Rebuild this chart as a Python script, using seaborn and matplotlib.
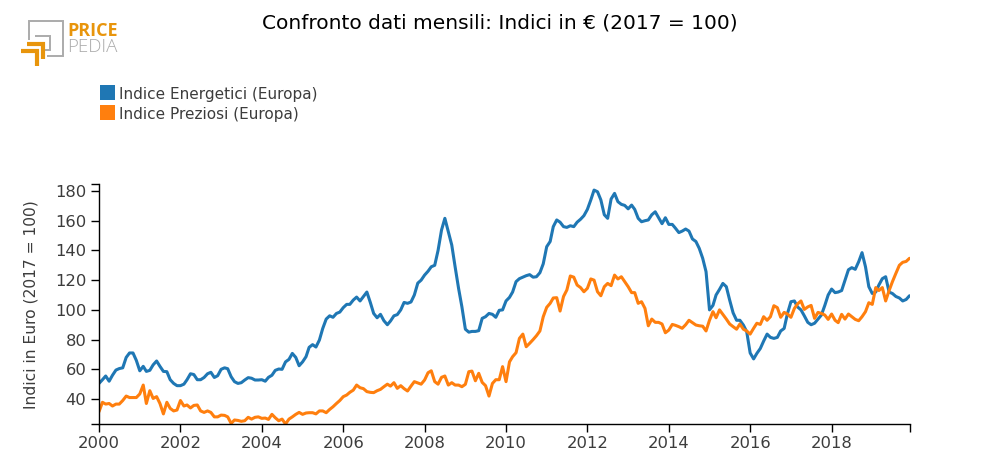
import matplotlib
matplotlib.use('Agg')
import matplotlib.pyplot as plt
import matplotlib.dates as mdates
from matplotlib.lines import Line2D
from matplotlib.patches import Rectangle
import pandas as pd
import seaborn as sns

ENERGETICI = [
    50.5, 53, 55.5, 52, 56, 59.5, 60.5, 61, 68, 71, 71, 66,
    59, 62, 58.6, 59.3, 63, 65.6, 62, 58.6, 58.4, 53, 50.5, 49,
    49, 50, 53, 57, 56.5, 53, 53, 54.5, 57, 58, 54.5, 55.7,
    60, 61, 60.4, 55, 51.7, 50.5, 51, 52.8, 54.4, 54, 52.8, 52.8,
    53, 52, 54.6, 56, 59.3, 60.2, 60, 65, 66.7, 70.7, 68, 62.4,
    65, 68.5, 74.8, 76.6, 75, 79.7, 87.5, 93.8, 96, 95, 97.6, 98.5,
    101.5, 103.7, 103.7, 106.6, 108.6, 106, 109, 112, 105, 97.6, 94.7, 97,
    92.7, 90, 92.5, 96, 96.8, 100, 105, 104.4, 105.3, 110, 118, 120,
    123.4, 126, 129, 130, 140, 153.7, 161.6, 152.6, 143.6, 129, 114.5, 102,
    87, 85, 85.5, 85.5, 86, 94.3, 95.4, 97.6, 97, 95, 99.7, 100,
    106, 108.4, 112, 119, 121, 122, 123, 123.7, 122, 122.3, 125, 131,
    142.5, 146, 156, 160.5, 159, 156, 155.5, 156.6, 156, 159, 161, 163.4,
    167.6, 174, 180.6, 179.5, 174, 164, 161.6, 174.6, 178.4, 172.8, 171, 170.3,
    168, 170.5, 167.6, 161.6, 159.3, 160, 160.5, 164, 166, 162, 158, 162,
    157.5, 157.5, 155, 152, 153, 154.4, 153, 147.7, 146, 141.4, 134.7, 125.7,
    100, 103, 110, 113.8, 117.8, 115.6, 106.6, 98, 93, 93, 89.8, 85.3,
    71, 67, 70.7, 74, 79, 83.7, 81.5, 80.8, 81.5, 85.8, 87.5, 97.6,
    105.5, 106, 102, 100, 96, 91.6, 90, 91, 93.8, 96.5, 103, 110,
    114, 111.6, 112, 113, 120, 127, 128.4, 127.3, 132.4, 138.5, 129, 115.6,
    111, 112, 116.7, 121, 122.3, 112, 111, 109, 108, 106, 107, 109.5,
]

PREZIOSI = [
    31.5, 37.8, 36.6, 37, 35.3, 36.6, 36.6, 39, 42, 41, 41, 41,
    43.4, 49.4, 37, 45.6, 40.4, 41.6, 37, 30, 37.8, 33.7, 32, 32.6,
    39, 35.3, 36, 34, 35.7, 36, 32, 31, 32, 31, 28, 28,
    29.2, 29, 28, 23.6, 25.9, 25.6, 25, 25.4, 27.7, 26.5, 27.7, 28,
    27, 27.2, 26.3, 29.7, 27.4, 25.4, 26.5, 23.2, 26.5, 28, 29.7, 31,
    29.7, 30.6, 30.8, 30.8, 30, 32, 32, 30.8, 33, 34.8, 37, 39,
    41.6, 42.7, 44.5, 46, 49.4, 47.6, 47, 45, 44.5, 44.3, 45.6, 46.5,
    48.3, 50, 48.7, 51, 47.2, 49, 47, 45.4, 48.7, 51.7, 50.8, 50,
    52.8, 57.7, 59, 51.7, 50, 54.6, 55.5, 49.4, 51, 49.4, 49.4, 48.3,
    49.9, 58.4, 58.8, 52.3, 57.3, 51.2, 49, 42, 50.5, 53, 53, 61.8,
    51.7, 65, 68.5, 71.2, 80.8, 83.7, 75.2, 77.5, 80, 82.6, 85.8, 95.4,
    101.7, 104.4, 108, 108.2, 99.2, 109, 113.4, 122.8, 122, 116.7, 115, 112.2,
    114.5, 120.8, 120, 112.2, 109.5, 115.6, 117.8, 116.3, 123.4, 120.8, 122.3, 119,
    115.6, 111.6, 111.6, 104.4, 105.5, 101, 89.3, 93.8, 91.6, 91.6, 90.5, 84.6,
    86.4, 90.2, 89.6, 88.7, 87.6, 90, 93, 91.4, 89.8, 89.3, 89, 85.8,
    93, 98.8, 94.7, 100, 97, 93.8, 90.5, 88.7, 87, 90.5, 87, 85.8,
    83.7, 87.6, 91, 90.2, 95.4, 93, 95.4, 102.8, 101.5, 95, 98.3, 97.2,
    95, 101, 104, 106, 100.3, 102, 103, 94.3, 98.3, 97.6, 96.5, 93.6,
    97.2, 93, 91.4, 97, 93.8, 97.2, 95.4, 93.6, 92.7, 95.4, 98.8, 104.8,
    103.7, 115, 113, 115, 106, 113, 119, 124.6, 130, 132, 132.6, 134.7,
]

SERIES_NAMES = ['Indice Energetici (Europa)', 'Indice Preziosi (Europa)']
COLOURS = ['#1f77b4', '#ff7f0e']
Y_TICKS = [40, 60, 80, 100, 120, 140, 160, 180]

W, H = 1000, 475
LOGO_ORANGE = '#e8950c'
LOGO_GREY = '#ababab'
TEXT_COL = '#3c3c3c'


def px(x, y):
    # pixel position (from top left) to figure fraction
    return x / W, 1 - y / H


def logo_line(fig, points, colour, width):
    xs, ys = zip(*[px(*p) for p in points])
    fig.add_artist(Line2D(xs, ys, color=colour, lw=width,
                          solid_joinstyle='miter', solid_capstyle='butt'))


months = pd.date_range('2000-01-01', periods=len(ENERGETICI), freq='MS')
frame = pd.DataFrame({'month': months, SERIES_NAMES[0]: ENERGETICI,
                      SERIES_NAMES[1]: PREZIOSI})
long_frame = frame.melt(id_vars='month', var_name='series', value_name='value')

sns.set_theme(style='white')
plt.rcParams['font.family'] = 'DejaVu Sans'

fig = plt.figure(figsize=(W / 100, H / 100), dpi=100)
ax = fig.add_axes([99 / W, 1 - 424 / H, (909.5 - 99) / W, (424 - 184) / H])

sns.lineplot(data=long_frame, x='month', y='value', hue='series',
             palette=COLOURS, linewidth=2.2, legend=False, ax=ax)

ax.set_xlim(months[0], months[-1])
ax.set_ylim(23.2, 184.7)
ax.set_yticks(Y_TICKS)
ax.xaxis.set_major_locator(mdates.YearLocator(2))
ax.xaxis.set_major_formatter(mdates.DateFormatter('%Y'))
# outer ticks at the ends of the axis lines
ax.set_xticks([mdates.date2num(months[-1])], minor=True)
ax.set_yticks([23.2, 184.7], minor=True)
ax.tick_params(axis='both', which='both', length=6, width=1, color='black',
               left=True, bottom=True, labelsize=11.8, labelcolor=TEXT_COL,
               pad=3)
ax.set_xlabel('')
ax.set_ylabel('')
sns.despine(ax=ax)
for side in ['left', 'bottom']:
    ax.spines[side].set_color('black')
    ax.spines[side].set_linewidth(1)

fig.text(31 / W, 1 - 305 / H, 'Indici in Euro (2017 = 100)', rotation=90,
         ha='center', va='center', fontsize=11.2, color=TEXT_COL)
fig.text(500 / W, 1 - 23 / H, 'Confronto dati mensili: Indici in € (2017 = 100)',
         ha='center', va='center', fontsize=14.5, color='black')

# legend
for i, (name, colour) in enumerate(zip(SERIES_NAMES, COLOURS)):
    top = 85 + 20 * i
    fig.add_artist(Rectangle(px(100, top + 15), 15 / W, 15 / H,
                             color=colour, lw=0))
    fig.text(119 / W, 1 - (top + 9) / H, name, ha='left', va='center',
             fontsize=11, color=TEXT_COL)

# logo
logo_line(fig, [(29, 40), (29, 21), (63, 21), (63, 56), (47, 56)],
          LOGO_GREY, 1.4)
logo_line(fig, [(35, 36), (50, 36), (50, 50), (44, 50)], LOGO_GREY, 1.4)
logo_line(fig, [(21, 50.5), (37, 50.5), (37, 66)], LOGO_ORANGE, 3)
logo_line(fig, [(27, 44), (43, 44), (43, 59)], LOGO_ORANGE, 3)
fig.text(67 / W, 1 - 31 / H, 'PRICE', ha='left', va='center', fontsize=13,
         fontweight='bold', color=LOGO_ORANGE, family='Open Sans')
fig.text(67 / W, 1 - 47 / H, 'PEDIA', ha='left', va='center', fontsize=13.5,
         fontweight='light', color=LOGO_GREY, family='Open Sans')

fig.savefig('out.png', dpi=100)
